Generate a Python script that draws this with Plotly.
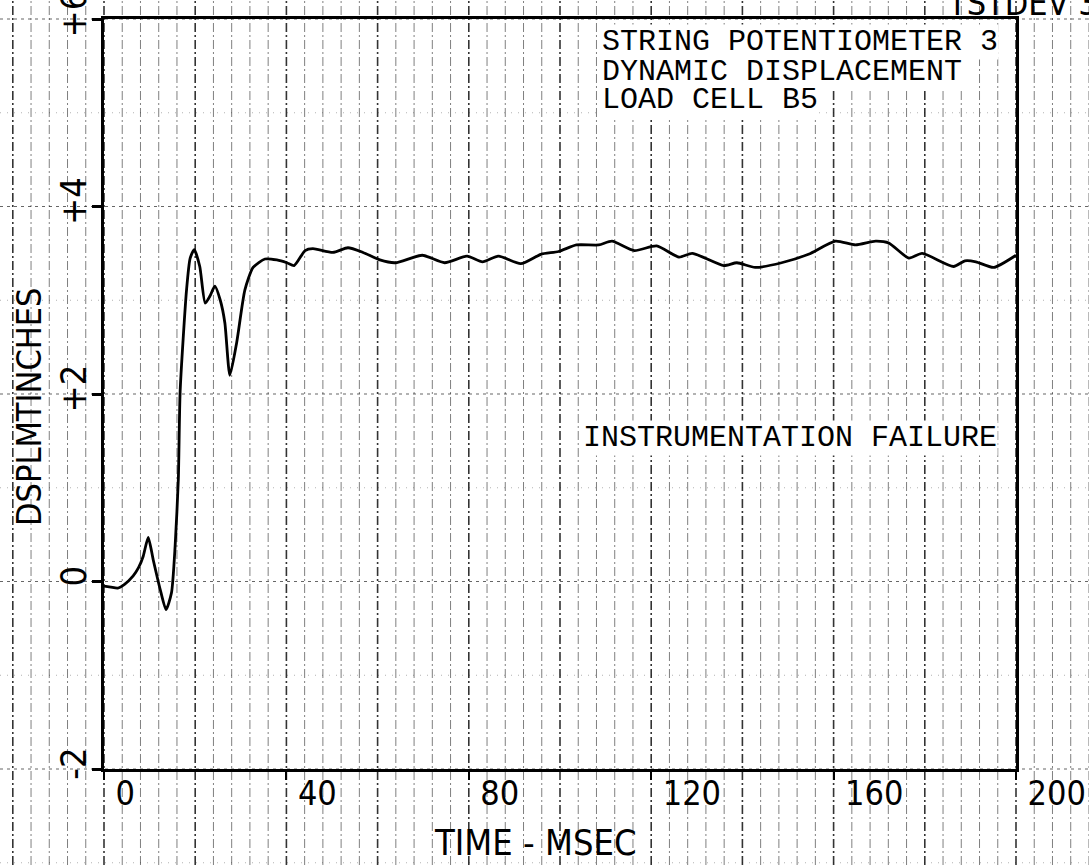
import plotly.graph_objects as go

# ---- data ----
time_ms = [0, 1.5, 3.0, 4.5, 6.4, 7.6, 8.6, 9.7, 10.8, 12.3, 13.6, 14.8, 15.6, 16.3, 16.7,
           18.1, 18.9, 19.8, 21.0, 22.2, 23.3, 24.3, 25.5, 26.5, 27.6, 29.1, 30.9, 32.7,
           35.3, 37.9, 40.1, 41.7, 44.1, 45.8, 50.2, 53.5, 56.8, 60.5, 63.9, 69.8, 74.7,
           79.6, 83.0, 86.5, 91.4, 95.8, 99.7, 103.6, 108.5, 111.4, 116.3, 121.2, 126.1,
           129.0, 135.9, 138.8, 142.8, 148.6, 154.5, 160.4, 164.8, 169.2, 172.1, 176.5,
           179.4, 186.3, 188.8, 191.2, 195.1, 200.0]
displacement_in = [-0.05, -0.06, -0.07, -0.03, 0.06, 0.15, 0.27, 0.47, 0.23, -0.08, -0.30,
                   -0.12, 0.38, 1.09, 2.03, 3.11, 3.45, 3.54, 3.36, 2.97, 3.05, 3.15, 3.00,
                   2.76, 2.20, 2.55, 3.11, 3.35, 3.44, 3.43, 3.40, 3.37, 3.53, 3.55, 3.51,
                   3.56, 3.51, 3.43, 3.40, 3.48, 3.40, 3.47, 3.41, 3.47, 3.39, 3.49, 3.52,
                   3.59, 3.59, 3.63, 3.53, 3.58, 3.46, 3.50, 3.37, 3.40, 3.35, 3.40, 3.49,
                   3.63, 3.59, 3.63, 3.61, 3.45, 3.50, 3.36, 3.42, 3.41, 3.35, 3.48]

x_tick_vals = [0, 40, 80, 120, 160, 200]
x_tick_text = ["0", "40", "80", "120", "160", "200"]
y_tick_vals = [-2, 0, 2, 4, 6]
y_tick_text = ["-2", "0", "+2", "+4", "+6"]
header_lines = ["STRING POTENTIOMETER 3", "DYNAMIC DISPLACEMENT", "LOAD CELL B5"]
failure_text = "INSTRUMENTATION FAILURE"
x_title = "TIME - MSEC"
y_title = "DSPLMTINCHES"
corner_text = "TSTDEV 3"

# graph-paper rulings (data units)
paper_time_lines = list(range(-24, 221, 4))
paper_value_lines = list(range(-3, 7, 1))

X_MIN, X_MAX = 0, 200
Y_MIN, Y_MAX = -2, 6

W, H = 1089, 865
ML, MR, MT, MB = 104, 73, 19, 96
pw = W - ML - MR
ph = H - MT - MB

NARROW = "Liberation Sans Narrow, DejaVu Sans Condensed, Roboto Condensed, sans-serif"
MONO = "Liberation Mono, Courier New, monospace"


def xp(t):
    return (t - X_MIN) / (X_MAX - X_MIN)


def yp(v):
    return (v - Y_MIN) / (Y_MAX - Y_MIN)


def page_x(px):
    return (px - ML) / pw


def page_y(py):
    return (H - MB - py) / ph


x_left_edge = -ML / pw
x_right_edge = 1 + MR / pw
y_bottom_edge = -MB / ph
y_top_edge = 1 + MT / ph

shapes = []
for t in paper_time_lines:
    heavy = (t % 20 == 0)
    shapes.append(dict(type="line", xref="paper", yref="paper",
                       x0=xp(t), x1=xp(t), y0=y_bottom_edge, y1=y_top_edge,
                       line=dict(color="rgba(0,0,0,0.8)" if heavy else "rgba(0,0,0,0.5)",
                                 width=1.6 if heavy else 1,
                                 dash="9px,3px,2px,3px"),
                       layer="below"))
for v in paper_value_lines:
    even = (v % 2 == 0)
    shapes.append(dict(type="line", xref="paper", yref="paper",
                       x0=x_left_edge, x1=x_right_edge, y0=yp(v), y1=yp(v),
                       line=dict(color="rgba(0,0,0,0.6)" if even else "rgba(0,0,0,0.3)",
                                 width=1.2 if even else 1,
                                 dash="3px,4px" if even else "1px,6px"),
                       layer="below"))

fig = go.Figure()
fig.add_trace(go.Scatter(x=time_ms, y=displacement_in, mode="lines",
                         line=dict(color="black", width=2.8, shape="spline", smoothing=0.6),
                         showlegend=False, hoverinfo="skip"))

annotations = []
header_y = [5.755, 5.44, 5.141]
for line, yy in zip(header_lines, header_y):
    annotations.append(dict(text=line, x=108.9, y=yy, xref="x", yref="y",
                            xanchor="left", yanchor="middle", showarrow=False,
                            font=dict(family=MONO, size=30, color="black"),
                            bgcolor="white", borderpad=0))
annotations.append(dict(text=failure_text, x=104.8, y=1.536, xref="x", yref="y",
                        xanchor="left", yanchor="middle", showarrow=False,
                        font=dict(family=MONO, size=30, color="black"),
                        bgcolor="white", borderpad=0))
annotations.append(dict(text=x_title, x=page_x(535), y=page_y(842),
                        xref="paper", yref="paper", xanchor="center", yanchor="middle",
                        showarrow=False, font=dict(family=NARROW, size=36, color="black")))
annotations.append(dict(text=y_title, x=page_x(29), y=page_y(407),
                        xref="paper", yref="paper", xanchor="center", yanchor="middle",
                        textangle=-90, showarrow=False,
                        font=dict(family=NARROW, size=34, color="black")))
annotations.append(dict(text=corner_text, x=page_x(945), y=page_y(25),
                        xref="paper", yref="paper", xanchor="left", yanchor="bottom",
                        showarrow=False, font=dict(family=NARROW, size=34, color="black")))

fig.update_layout(
    width=W, height=H, autosize=False,
    margin=dict(l=ML, r=MR, t=MT, b=MB, pad=0, autoexpand=False),
    paper_bgcolor="white", plot_bgcolor="rgba(0,0,0,0)",
    shapes=shapes, annotations=annotations,
    xaxis=dict(range=[X_MIN, X_MAX], tickvals=x_tick_vals, ticktext=x_tick_text,
               automargin=False,
               showgrid=False, zeroline=False, showline=True, mirror=True,
               linecolor="black", linewidth=3, ticks="outside", ticklen=8, tickwidth=2,
               tickcolor="black", ticklabelposition="outside right", ticklabelshift=9,
               ticklabelstandoff=-8, ticklabeloverflow="allow",
               tickfont=dict(family=NARROW, size=34, color="black")),
    yaxis=dict(range=[Y_MIN, Y_MAX], tickvals=y_tick_vals, ticktext=y_tick_text,
               automargin=False,
               showgrid=False, zeroline=False, showline=True, mirror=True,
               linecolor="black", linewidth=3, ticks="outside", ticklen=9, tickwidth=3,
               tickcolor="black", tickangle=-90, ticklabelstandoff=-8,
               ticklabeloverflow="allow",
               tickfont=dict(family=NARROW, size=36, color="black")),
)

# the page is photographed from its top-left corner: drop the default body margin
fig.write_html("out.html", config={"displayModeBar": False},
               post_script="document.body.style.margin='0px';")
